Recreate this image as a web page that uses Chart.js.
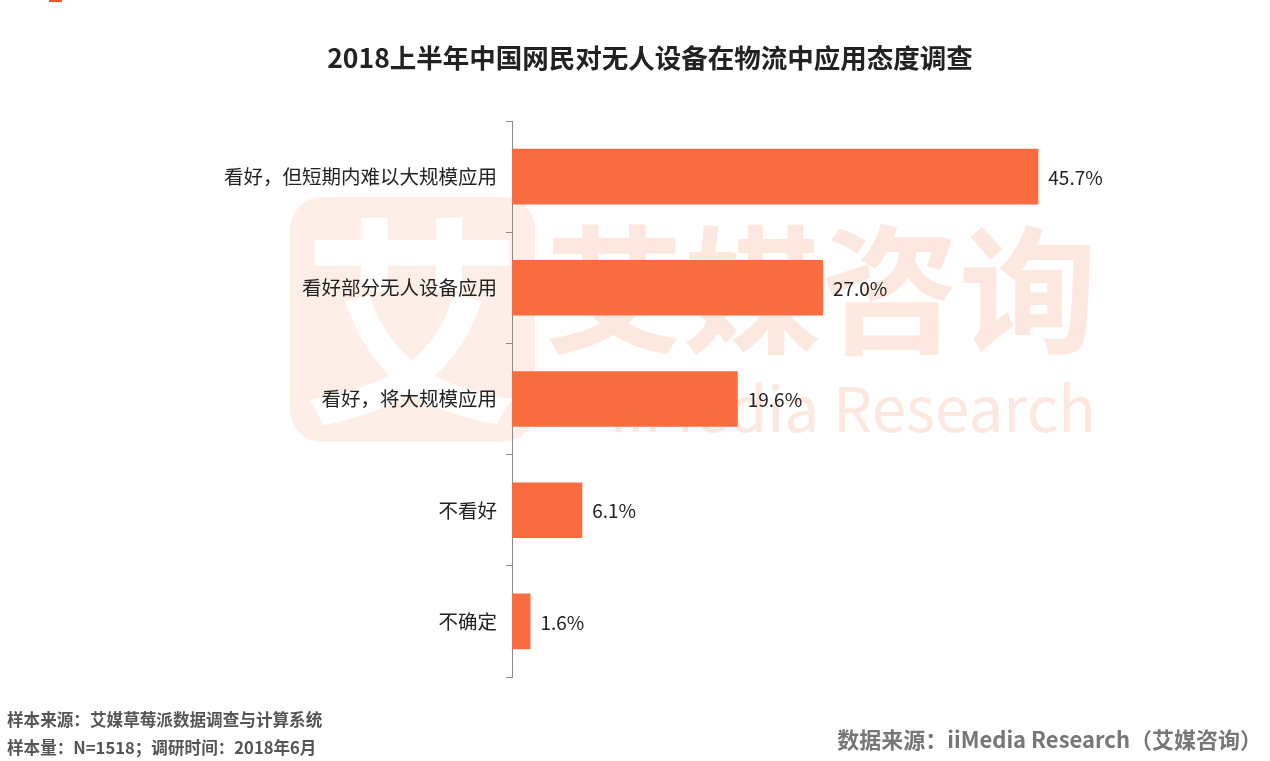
<!DOCTYPE html>
<html>
<head>
<meta charset="utf-8">
<script src="https://cdn.jsdelivr.net/npm/chart.js@4"></script>
<style>
  html, body { margin: 0; padding: 0; background: #fff; }
  #wrap { width: 1270px; height: 761px; position: relative; }
</style>
</head>
<body>
<div id="wrap"><canvas id="c" width="1270" height="761"></canvas></div>
<script>
// 数据
const categories = ['看好，但短期内难以大规模应用', '看好部分无人设备应用', '看好，将大规模应用', '不看好', '不确定'];
const values = [45.7, 27.0, 19.6, 6.1, 1.6];
const valueLabels = ['45.7%', '27.0%', '19.6%', '6.1%', '1.6%'];

const FONT = '"Noto Sans CJK SC", "Noto Sans", sans-serif';

// 背景水印 + 标题 + 脚注
const decor = {
    id: 'decor',
    beforeDraw(chart) {
        const ctx = chart.ctx;
        ctx.save();
        // 水印
        ctx.fillStyle = '#fdeee7';
        ctx.beginPath();
        ctx.roundRect(290, 197, 245, 245, 32);
        ctx.fill();
        ctx.fillStyle = '#ffffff';
        ctx.font = 'bold 220px ' + FONT;
        ctx.textAlign = 'center';
        ctx.textBaseline = 'middle';
        ctx.fillText('艾', 412, 322);
        ctx.fillStyle = '#fde8df';
        ctx.font = 'bold 138px ' + FONT;
        ctx.textAlign = 'left';
        ctx.fillText('艾媒咨询', 545, 290);
        ctx.font = '62px ' + FONT;
        ctx.textAlign = 'right';
        ctx.fillText('iiMedia Research', 1096, 408);

        // 左上角色块
        ctx.fillStyle = '#f0582a';
        ctx.fillRect(49, 0, 13, 2);

        // 标题
        ctx.fillStyle = '#222';
        ctx.font = 'bold 26.5px ' + FONT;
        ctx.textAlign = 'center';
        ctx.fillText('2018上半年中国网民对无人设备在物流中应用态度调查', 650, 58);

        // 脚注
        ctx.fillStyle = '#555';
        ctx.font = 'bold 16.6px ' + FONT;
        ctx.textAlign = 'left';
        ctx.fillText('样本来源：艾媒草莓派数据调查与计算系统', 7, 720);
        ctx.fillText('样本量：N=1518；调研时间：2018年6月', 7, 748);
        ctx.fillStyle = '#777';
        ctx.font = 'bold 22px ' + FONT;
        ctx.textAlign = 'right';
        ctx.fillText('数据来源：iiMedia Research（艾媒咨询）', 1262, 740);
        ctx.restore();
    },
    afterDatasetsDraw(chart) {
        const ctx = chart.ctx;
        const meta = chart.getDatasetMeta(0);
        ctx.save();
        ctx.fillStyle = '#222';
        ctx.font = '19px ' + FONT;
        ctx.textAlign = 'left';
        ctx.textBaseline = 'middle';
        meta.data.forEach((bar, i) => {
            ctx.fillText(valueLabels[i], bar.x + 10, bar.y + 1);
        });
        ctx.restore();
    }
};

new Chart(document.getElementById('c'), {
    type: 'bar',
    data: {
        labels: categories,
        datasets: [{
            data: values,
            backgroundColor: '#f86c40',
            categoryPercentage: 1,
            barPercentage: 0.5
        }]
    },
    options: {
        indexAxis: 'y',
        responsive: false,
        animation: false,
        layout: { padding: { top: 121, bottom: 84, left: 0, right: 67 } },
        plugins: { legend: { display: false }, tooltip: { enabled: false } },
        scales: {
            x: { display: false, min: 0, max: 60 },
            y: {
                afterFit(scale) { scale.width = 512; },
                grid: { drawOnChartArea: false, tickLength: 6, color: '#8a8a8a', offset: true },
                border: { color: '#8a8a8a' },
                ticks: { color: '#222', font: { size: 19.5, family: FONT }, padding: 9 }
            }
        }
    },
    plugins: [decor]
});
</script>
</body>
</html>
